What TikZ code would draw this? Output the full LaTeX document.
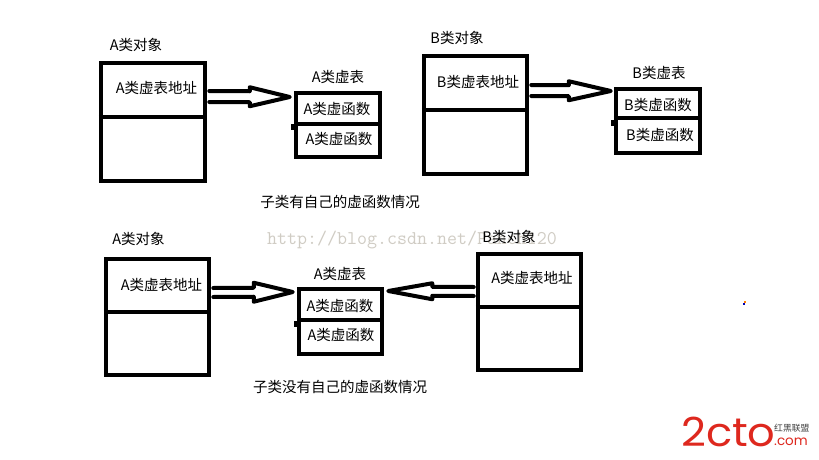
\documentclass[tikz,border=0pt]{standalone}
\usepackage{fontspec}
\setmainfont{Noto Sans CJK SC}
\newfontfamily\logofont{Poppins}
\usetikzlibrary{calc}
\definecolor{wmgray}{RGB}{208,204,196}
\definecolor{logored}{RGB}{222,40,30}
\tikzset{
  boxline/.style={line width=4.5pt},
  objbox/.style={boxline, draw, rectangle, inner sep=0pt, minimum width=103pt, minimum height=117pt},
  vtbox/.style={boxline, draw, rectangle, inner sep=0pt, minimum width=84pt, minimum height=64pt},
  lbl/.style={inner sep=0pt, font=\fontsize{14.5}{16}\selectfont, text=black},
  fatline/.style={line width=4pt, line join=round, line cap=round},
  nub/.style={fill=black, inner sep=0pt, minimum width=3pt, minimum height=6pt},
}
% #1 start coordinate, #2 tip coordinate, #3 head length, #4 shaft half gap, #5 head half width
\newcommand\fatarrow[5]{%
  \draw[fatline] ($(#1)+(0,-#4)$) -- ($($(#2)!#3!(#1)$)+(0,-#4)$)
    -- ($($(#2)!#3!(#1)$)+(0,-#5)$) -- (#2)
    -- ($($(#2)!#3!(#1)$)+(0,#5)$) -- ($($(#2)!#3!(#1)$)+(0,#4)$)
    -- ($(#1)+(0,#4)$);
}
\begin{document}
\begin{tikzpicture}[x=1pt,y=-1pt]
\useasboundingbox[fill=white] (0,0) rectangle (819,460);

% watermark
\node[anchor=west, inner sep=0pt, text=wmgray, font=\ttfamily\fontsize{19.4}{20}\selectfont] (wm) at (267,240) {http://blog.csdn.net/Panch120};

% ===== top row =====
\node[objbox, minimum width=104pt, minimum height=118pt] (objA1) at (153,122) {};
\draw[boxline] (objA1.west |- 0,117) -- (objA1.east |- 0,117);
\node[vtbox] (vtA1) at (338,125) {};
\draw[boxline] (vtA1.west |- 0,124) -- (vtA1.east |- 0,124);
\node[nub] (nA1) at (292,127) {};

\node[objbox, minimum height=118pt] (objB1) at (475.5,115) {};
\draw[boxline] (objB1.west |- 0,110) -- (objB1.east |- 0,110);
\node[vtbox] (vtB1) at (658,121) {};
\draw[boxline] (vtB1.west |- 0,118) -- (vtB1.east |- 0,118);
\node[nub] (nB1) at (612,123) {};

\node[lbl] (tA1) at (136,45) {A类对象};
\node[lbl] (tA1a) at (156.5,88) {A类虚表地址};
\node[lbl] (tA1v) at (338,77) {A类虚表};
\node[lbl] (tA1f1) at (337,109) {A类虚函数};
\node[lbl] (tA1f2) at (339,139) {A类虚函数};
\node[lbl] (cap1) at (340,202) {子类有自己的虚函数情况};

\node[lbl] (tB1) at (457,38) {B类对象};
\node[lbl] (tB1a) at (478,82) {B类虚表地址};
\node[lbl] (tB1v) at (659,73) {B类虚表};
\node[lbl] (tB1f1) at (658,105) {B类虚函数};
\node[lbl] (tB1f2) at (660,135) {B类虚函数};

\coordinate (s1) at ($(objA1.east |- 0,96.5)+(2,0)$);
\coordinate (e1) at ($(vtA1.west |- 0,97)+(-4,0)$);
\fatarrow{s1}{e1}{40pt}{5.5}{9.5}
\coordinate (s2) at ($(objB1.east |- 0,90.5)+(2,0)$);
\coordinate (e2) at ($(vtB1.west |- 0,91)+(-3,0)$);
\fatarrow{s2}{e2}{42pt}{5.5}{9.5}

% ===== bottom row =====
\node[objbox, minimum height=116pt] (objA2) at (157.5,317) {};
\draw[boxline] (objA2.west |- 0,312) -- (objA2.east |- 0,312);
\node[vtbox, minimum width=83pt, minimum height=65pt] (vtA2) at (340.5,321.5) {};
\draw[boxline] (vtA2.west |- 0,320) -- (vtA2.east |- 0,320);
\node[nub] (nA2) at (295,324) {};

\node[objbox, minimum height=116pt] (objB2) at (529.5,312) {};
\draw[boxline] (objB2.west |- 0,307) -- (objB2.east |- 0,307);

\node[lbl] (tA2) at (138.5,239) {A类对象};
\node[lbl] (tA2a) at (161.5,285) {A类虚表地址};
\node[lbl] (tA2v) at (340,274) {A类虚表};
\node[lbl] (tA2f1) at (340,306) {A类虚函数};
\node[lbl] (tA2f2) at (341,335) {A类虚函数};
\node[lbl] (tB2) at (509,237) {B类对象};
\node[lbl] (tB2a) at (532,278) {A类虚表地址};
\node[lbl] (cap2) at (340,387) {子类没有自己的虚函数情况};

\coordinate (s3) at ($(objA2.east |- 0,292.5)+(2,0)$);
\coordinate (e3) at ($(vtA2.west |- 0,292)+(-4,0)$);
\fatarrow{s3}{e3}{39pt}{4.5}{9.5}
\coordinate (s4) at ($(objB2.west |- 0,291.5)+(-2,0)$);
\coordinate (e4) at ($(vtA2.east |- 0,291)+(4,0)$);
\fatarrow{s4}{e4}{44pt}{4.5}{8}

% small stray mark
\node[fill=orange, inner sep=0pt, minimum width=2pt, minimum height=2pt] (dot1) at (744.5,302) {};
\node[fill=blue!70!black, inner sep=0pt, minimum width=2pt, minimum height=2pt] (dot2) at (743.5,304) {};

% logo
\node[anchor=west, inner sep=0pt, text=logored, font=\logofont\fontsize{40}{40}\selectfont] (logo) at (681,432) {\scalebox{1.08}[1]{2cto}};
\node[anchor=west, inner sep=0pt, text=black!75, font=\fontsize{8.8}{9}\selectfont] (logocn) at (774,428) {红黑联盟};
\node[anchor=west, inner sep=0pt, text=logored, font=\logofont\fontsize{13.5}{14}\selectfont] (logocom) at (774,442) {.com};
\end{tikzpicture}
\end{document}
